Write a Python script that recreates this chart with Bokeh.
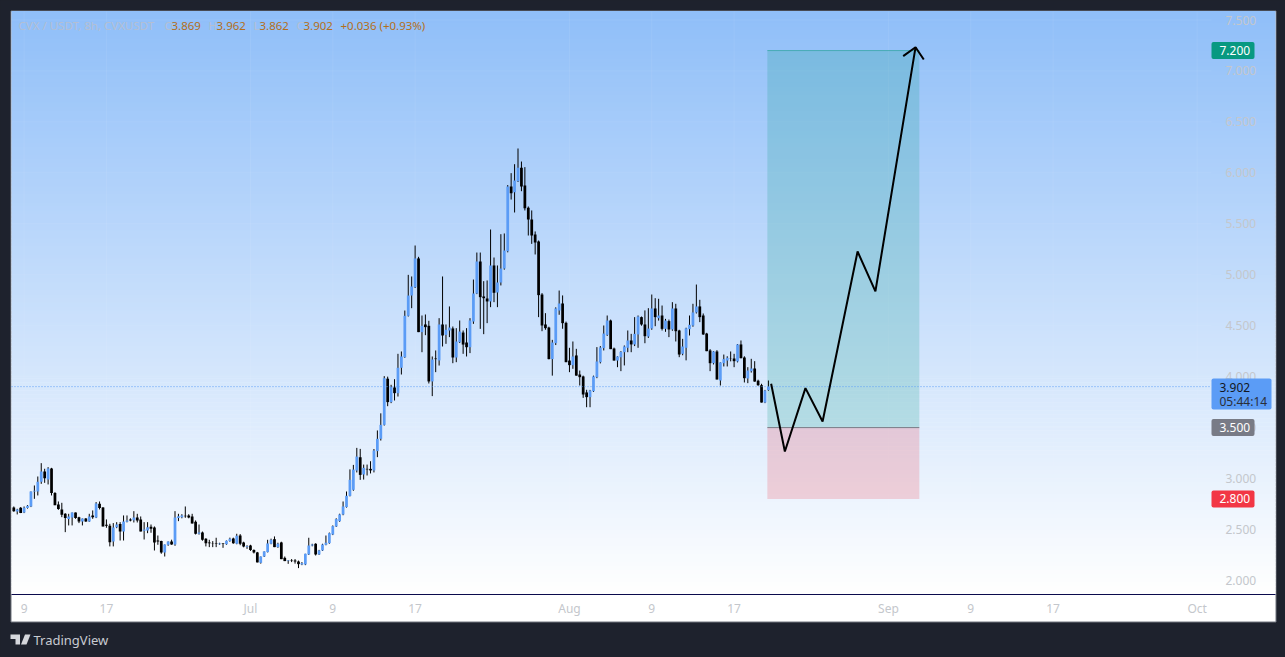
import numpy as np
from bokeh.core.properties import value
from bokeh.embed import file_html
from bokeh.models import FixedTicker
from bokeh.plotting import figure
from bokeh.resources import INLINE

# 8h candles
opens = [2.716,2.677,2.713,2.667,2.710,2.726,2.873,2.873,2.968,3.07,2.991,3.099,2.857,2.746,2.697,2.654,2.602,2.618,2.667,2.621,
2.579,2.608,2.579,2.638,2.618,2.752,2.716,2.546,2.536,2.383,2.523,2.553,2.481,2.575,2.599,2.592,2.618,2.599,2.487,2.491,
2.527,2.52,2.392,2.386,2.275,2.35,2.383,2.353,2.612,2.621,2.634,2.638,2.628,2.575,2.458,2.47,2.409,2.373,2.368,2.362,
2.356,2.362,2.356,2.386,2.412,2.36,2.441,2.373,2.33,2.343,2.30,2.275,2.173,2.235,2.278,2.36,2.405,2.327,2.373,2.222,
2.19,2.2,2.196,2.186,2.157,2.157,2.255,2.343,2.36,2.255,2.294,2.35,2.366,2.451,2.53,2.582,2.648,2.72,2.83,2.889,
3.079,3.209,3.04,3.095,3.095,3.08,3.269,3.39,3.527,3.98,3.75,3.894,3.838,4.087,4.191,4.597,4.796,4.878,5.16,4.437,
4.512,4.499,3.953,4.178,4.159,4.512,4.41,4.453,4.473,4.188,4.338,4.433,4.335,4.289,4.541,4.816,5.13,4.787,4.767,4.738,
5.091,4.826,4.924,5.061,5.231,5.866,5.81,5.918,6.049,5.876,5.657,5.542,5.395,5.326,4.806,4.512,4.482,4.172,4.329,4.649,
4.718,4.528,4.158,4.113,4.208,4.021,4.002,3.845,3.799,3.857,3.995,4.142,4.28,4.41,4.551,4.276,4.158,4.19,4.24,4.283,
4.355,4.316,4.414,4.584,4.512,4.394,4.473,4.669,4.574,4.60,4.469,4.545,4.463,4.669,4.453,4.224,4.283,4.466,4.502,4.63,
4.689,4.60,4.423,4.257,4.132,4.247,3.962,4.132,4.158,4.18,4.178,4.149,4.316,4.188,3.982,4.054,4.08,3.96,3.916,3.746,3.869]
highs = [2.726,2.703,2.72,2.726,2.74,2.873,2.932,3.02,3.151,3.096,3.112,3.105,2.867,2.775,2.762,2.66,2.654,2.667,2.667,2.625,
2.608,2.612,2.654,2.687,2.769,2.775,2.72,2.599,2.556,2.563,2.572,2.572,2.638,2.638,2.61,2.68,2.654,2.628,2.572,2.572,
2.549,2.53,2.441,2.39,2.353,2.383,2.40,2.68,2.654,2.65,2.726,2.65,2.654,2.589,2.549,2.48,2.415,2.399,2.386,2.419,
2.37,2.366,2.392,2.42,2.42,2.458,2.455,2.38,2.345,2.35,2.305,2.28,2.235,2.285,2.399,2.41,2.432,2.37,2.38,2.235,
2.20,2.21,2.21,2.195,2.18,2.262,2.419,2.36,2.365,2.30,2.36,2.441,2.47,2.54,2.61,2.655,2.775,2.873,3.09,3.134,
3.301,3.291,3.137,3.137,3.17,3.29,3.472,3.64,4.005,4.0,3.92,3.975,4.224,4.247,4.649,4.999,4.983,5.287,5.176,4.6,
4.61,4.548,4.198,4.257,4.574,4.983,4.512,4.689,4.492,4.476,4.551,4.453,4.476,4.574,4.953,5.218,5.218,4.937,4.944,5.444,
5.169,5.091,5.398,5.405,5.88,5.997,6.085,6.239,6.111,6.056,5.67,5.631,5.425,5.336,4.82,4.623,4.49,4.361,4.68,4.845,
4.797,4.54,4.283,4.345,4.273,4.06,4.01,3.871,3.87,4.01,4.29,4.30,4.502,4.60,4.56,4.285,4.20,4.25,4.306,4.453,
4.42,4.584,4.60,4.59,4.65,4.672,4.806,4.77,4.764,4.698,4.567,4.56,4.731,4.715,4.46,4.371,4.48,4.60,4.715,4.904,
4.754,4.62,4.43,4.27,4.25,4.26,4.14,4.217,4.20,4.247,4.224,4.32,4.355,4.20,4.093,4.175,4.152,3.97,3.93,3.87,3.962]
lows = [2.674,2.648,2.661,2.661,2.705,2.72,2.801,2.834,2.948,2.958,2.942,2.834,2.739,2.693,2.621,2.474,2.54,2.54,2.605,2.563,
2.54,2.575,2.575,2.605,2.612,2.697,2.53,2.517,2.334,2.334,2.513,2.392,2.392,2.57,2.58,2.569,2.569,2.481,2.402,2.464,
2.468,2.294,2.35,2.262,2.235,2.34,2.35,2.34,2.582,2.61,2.615,2.61,2.559,2.451,2.45,2.39,2.334,2.327,2.327,2.327,
2.35,2.32,2.35,2.38,2.36,2.355,2.346,2.325,2.31,2.29,2.265,2.177,2.165,2.23,2.275,2.355,2.327,2.32,2.209,2.19,
2.163,2.18,2.165,2.121,2.15,2.15,2.25,2.335,2.245,2.25,2.29,2.345,2.36,2.445,2.525,2.575,2.64,2.715,2.825,2.88,
3.06,2.987,2.99,3.03,3.05,3.06,3.21,3.373,3.52,3.71,3.74,3.766,3.805,4.021,4.185,4.59,4.672,4.87,4.437,4.24,
4.407,3.933,3.809,4.044,4.109,4.296,4.322,4.388,4.132,4.142,4.33,4.224,4.198,4.231,4.518,4.81,4.469,4.417,4.525,4.682,
4.731,4.682,4.895,5.05,5.22,5.738,5.611,5.91,5.82,5.631,5.385,5.303,5.199,4.584,4.446,4.46,4.17,4.01,4.31,4.607,
4.47,4.142,4.044,4.077,4.01,3.913,3.792,3.70,3.70,3.85,3.985,4.13,4.257,4.40,4.27,4.158,4.093,4.054,4.11,4.24,
4.24,4.30,4.283,4.50,4.328,4.38,4.46,4.495,4.55,4.453,4.44,4.388,4.45,4.345,4.191,4.21,4.16,4.404,4.49,4.62,
4.535,4.41,4.25,4.054,4.12,3.972,3.913,4.10,4.10,4.15,4.093,4.14,4.18,3.943,3.936,4.04,3.95,3.91,3.746,3.74,3.862]
closes = [2.680,2.697,2.661,2.713,2.733,2.873,2.880,2.968,3.07,3.004,3.099,2.857,2.739,2.70,2.644,2.612,2.628,2.667,2.612,2.579,
2.608,2.579,2.628,2.621,2.755,2.71,2.53,2.536,2.376,2.52,2.549,2.481,2.579,2.589,2.589,2.618,2.589,2.481,2.50,2.523,
2.507,2.373,2.383,2.275,2.353,2.383,2.353,2.618,2.631,2.638,2.631,2.618,2.559,2.458,2.47,2.399,2.366,2.366,2.364,2.358,
2.363,2.358,2.389,2.409,2.366,2.438,2.36,2.334,2.338,2.298,2.275,2.177,2.235,2.285,2.363,2.399,2.327,2.36,2.209,2.19,
2.196,2.196,2.186,2.16,2.17,2.262,2.343,2.353,2.255,2.294,2.353,2.37,2.464,2.533,2.602,2.648,2.726,2.831,2.988,3.088,
3.216,3.036,3.105,3.09,3.08,3.275,3.39,3.527,3.985,3.75,3.897,3.838,4.087,4.198,4.597,4.796,4.885,5.16,4.437,4.499,
4.486,3.953,4.168,4.172,4.512,4.404,4.46,4.482,4.188,4.345,4.443,4.315,4.289,4.551,4.816,5.13,4.78,4.77,4.738,5.091,
4.823,4.924,5.061,5.238,5.866,5.8,5.925,6.049,5.866,5.653,5.542,5.385,5.316,4.8,4.502,4.476,4.172,4.335,4.669,4.718,
4.525,4.142,4.113,4.198,4.01,3.995,3.825,3.799,3.864,4.002,4.149,4.286,4.423,4.551,4.27,4.158,4.198,4.243,4.296,4.355,
4.316,4.42,4.59,4.512,4.397,4.472,4.669,4.584,4.60,4.469,4.551,4.463,4.669,4.446,4.217,4.296,4.473,4.509,4.63,4.689,
4.584,4.414,4.25,4.132,4.247,3.972,4.139,4.172,4.185,4.178,4.152,4.316,4.181,3.985,4.06,4.08,3.952,3.916,3.746,3.864,3.902]

# drawn trade idea
path_x = [220.8, 224.8, 230.8, 235.8, 246.0, 251.2, 262.9]
path_y = [3.93, 3.265, 3.887, 3.56, 5.228, 4.836, 7.233]
head_x = [259.3, 262.9, 265.3]
head_y = [7.145, 7.233, 7.112]
pos_left = 219.7
pos_right = 264.0
entry = 3.5
target = 7.2
stop = 2.8
last_price = 3.902

price_ticks = [2.0, 2.5, 3.0, 3.5, 4.0, 4.5, 5.0, 5.5, 6.0, 6.5, 7.0, 7.5]
time_ticks = [3, 27, 69, 93, 117, 162, 186, 210, 255, 279, 303, 345]
time_labels = ["9", "17", "Jul", "9", "17", "Aug", "9", "17", "Sep", "9", "17", "Oct"]

UP = "#5b9cf6"
DARK = "#1e222d"
GREY = "#c4c7cc"
FONT = "Noto Sans"


def bx(px):
    return (px - 13.3) / 3.43


def py(y):
    return 7.5 - (y - 19.5) / 101.9


# the frame fills the whole page, file_html takes the body margin away
p = figure(width=1285, height=657, output_backend="svg", toolbar_location=None,
           x_range=(bx(0), bx(1285)), y_range=(py(657), py(0)),
           x_axis_location="below", y_axis_location="right",
           min_border_left=0, min_border_right=0, min_border_top=0, min_border_bottom=0)
p.background_fill_color = DARK
p.border_fill_color = DARK
p.outline_line_color = None

# chart panel and its gradient
p.quad(left=[bx(10.5)], right=[bx(1275.5)], top=[py(10.5)], bottom=[py(621.5)], fill_color="white",
       line_color="#70757f", line_width=1, level="image")
n = 146
edges = np.linspace(py(11), py(594), n + 1)
cols = []
for i in range(n):
    t = i / (n - 1)
    cols.append("#%02x%02x%02x" % (int(144 + 111 * t), int(191 + 64 * t), int(249 + 6 * t)))
p.quad(left=bx(11), right=bx(1275), top=edges[:-1] + 0.006, bottom=edges[1:], fill_color=cols,
       line_color=None, level="image")

# position box
p.quad(left=[pos_left], right=[pos_right], top=[target], bottom=[entry], fill_color="#089981",
       fill_alpha=0.2, line_color=None)
p.quad(left=[pos_left], right=[pos_right], top=[entry], bottom=[stop], fill_color="#f23645",
       fill_alpha=0.2, line_color=None)
p.segment(x0=[pos_left], x1=[pos_right], y0=[target], y1=[target], line_color="#089981", line_alpha=0.5)
p.segment(x0=[pos_left], x1=[pos_right], y0=[entry], y1=[entry], line_color="#787b86", line_width=1)

# candles
idx = list(range(len(closes)))
body_col = [UP if c >= o else "black" for o, c in zip(opens, closes)]
p.segment(x0=idx, x1=idx, y0=lows, y1=highs, line_color="black", line_width=1)
p.vbar(x=idx, width=0.8, top=[max(a, b) for a, b in zip(opens, closes)],
       bottom=[min(a, b) for a, b in zip(opens, closes)], fill_color=body_col, line_color=None)

# last price line
p.segment(x0=[bx(11)], x1=[bx(1211)], y0=[last_price], y1=[last_price], line_color=UP,
          line_width=1, line_dash="1 2")

p.line(path_x, path_y, line_color="black", line_width=2)
p.line(head_x, head_y, line_color="black", line_width=2)

# axes drawn inside the panel
p.yaxis.fixed_location = bx(1211)
p.yaxis.ticker = FixedTicker(ticks=price_ticks)
p.yaxis.major_label_overrides = {t: "%.3f" % t for t in price_ticks}
p.yaxis.axis_line_color = None
p.yaxis.major_tick_line_color = None
p.yaxis.minor_tick_line_color = None
p.yaxis.major_label_standoff = 8
p.yaxis.major_label_text_color = GREY
p.yaxis.major_label_text_font = FONT
p.yaxis.major_label_text_font_size = "12px"

p.xaxis.fixed_location = py(586)
p.xaxis.ticker = FixedTicker(ticks=time_ticks)
p.xaxis.major_label_overrides = dict(zip(time_ticks, time_labels))
p.xaxis.axis_line_color = None
p.xaxis.major_tick_line_color = None
p.xaxis.minor_tick_line_color = None
p.xaxis.major_label_standoff = 7
p.xaxis.major_label_text_color = GREY
p.xaxis.major_label_text_font = FONT
p.xaxis.major_label_text_font_size = "12px"
p.segment(x0=[bx(11)], x1=[bx(1275)], y0=[py(594)], y1=[py(594)], line_color="#0b0b4d", line_width=1)

p.xgrid.grid_line_color = None
p.ygrid.grid_line_color = None
# faint grid, only over the chart part
p.segment(x0=[bx(11)] * len(price_ticks), x1=[bx(1211)] * len(price_ticks), y0=price_ticks, y1=price_ticks,
          line_color="white", line_alpha=0.07, level="image")
p.segment(x0=time_ticks, x1=time_ticks, y0=[py(594)] * len(time_ticks), y1=[py(11)] * len(time_ticks),
          line_color="white", line_alpha=0.07, level="image")

# price tags
tag_prices = [target, entry, stop]
tag_cols = ["#089981", "#787b86", "#f23645"]
half = 8.5 / 101.9
p.quad(left=[bx(1211)] * 3, right=[bx(1254)] * 3, top=[v + half for v in tag_prices],
       bottom=[v - half for v in tag_prices], fill_color=tag_cols, line_color=None, border_radius=2, level="overlay")
p.text(x=[bx(1219)] * 3, y=tag_prices, text=["%.3f" % v for v in tag_prices], text_color="white",
       text_font=value(FONT), text_font_size="12px", text_baseline="middle", level="overlay")
p.quad(left=[bx(1211)], right=[bx(1271)], top=[py(378)], bottom=[py(409)], fill_color=UP, line_color=None,
       border_radius=2, level="overlay")
p.text(x=[bx(1219), bx(1219)], y=[py(386.5), py(401)], text=["%.3f" % last_price, "05:44:14"],
       text_color=["#131722", "#2a2e39"], text_font=value(FONT), text_font_size="12px",
       text_baseline="middle", level="overlay")

# header
head_texts = ["CVX / USDT, 8h, CVXUSDT", "O", "3.869", "H", "3.962", "L", "3.862", "C", "3.902", "+0.036 (+0.93%)"]
head_px = [18, 164, 171, 208, 216, 253, 259, 296, 303, 340]
head_cols = ["#b4bfd2", "#b4bfd2", "#b36f1a", "#b4bfd2", "#b36f1a", "#b4bfd2", "#b36f1a", "#b4bfd2", "#b36f1a", "#b36f1a"]
p.text(x=[bx(v) for v in head_px], y=[py(25)] * len(head_px), text=head_texts, text_color=head_cols,
       text_font=value(FONT), text_font_size="11.5px", text_baseline="middle")

# logo under the panel
p.text(x=[bx(33)], y=[py(639.5)], text=["TradingView"], text_color="#c8cbd1", text_font=value(FONT),
       text_font_size="13px", text_baseline="middle")
logo_t = [(10, 634), (19.5, 634), (19.5, 644), (15, 644), (15, 638.5), (10, 638.5)]
logo_v = [(24.5, 634), (30, 634), (26, 644), (20.5, 644)]
for shape in (logo_t, logo_v):
    p.patch([bx(a) for a, b in shape], [py(b) for a, b in shape], fill_color="#d5d7dc", line_color=None)

html = file_html(p, INLINE).replace("<body>", '<body style="background:%s">' % DARK)
open("out.html", "w").write(html)
